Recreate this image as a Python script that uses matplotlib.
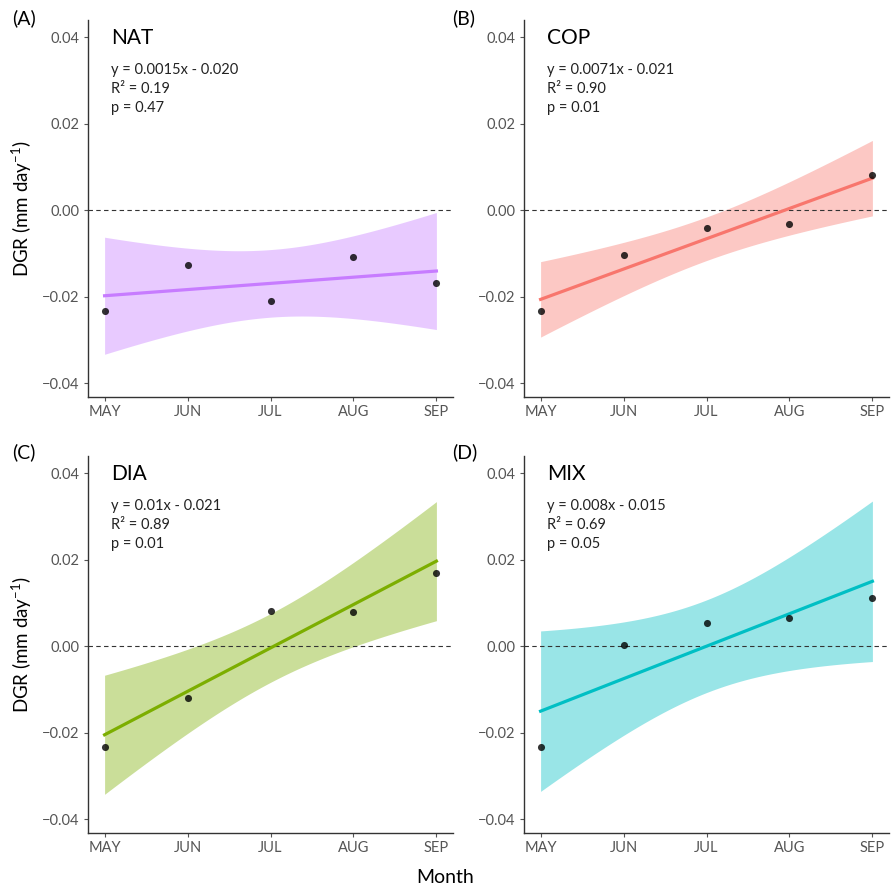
import numpy as np
import matplotlib
matplotlib.use("Agg")
import matplotlib.pyplot as plt

plt.rcParams['font.family'] = ['Lato', 'DejaVu Sans']
plt.rcParams['mathtext.fontset'] = 'custom'
plt.rcParams['mathtext.rm'] = 'Lato'
plt.rcParams['mathtext.it'] = 'Lato:italic'

# monthly daily growth rate per group
months = ["MAY", "JUN", "JUL", "AUG", "SEP"]
nat = [-0.0232, -0.0126, -0.0210, -0.0109, -0.0169]
cop = [-0.0233, -0.0104, -0.0042, -0.0033, 0.0082]
dia = [-0.0232, -0.0120, 0.0082, 0.0080, 0.0170]
mix = [-0.0232, 0.0002, 0.0053, 0.0065, 0.0112]

groups = ["NAT", "COP", "DIA", "MIX"]
panel_tags = ["(A)", "(B)", "(C)", "(D)"]
equations = ["y = 0.0015x - 0.020", "y = 0.0071x - 0.021",
             "y = 0.01x - 0.021", "y = 0.008x - 0.015"]
r2_text = ["0.19", "0.90", "0.89", "0.69"]
p_text = ["0.47", "0.01", "0.01", "0.05"]
line_cols = ["#C77CFF", "#F8766D", "#7CAE00", "#00BFC4"]
series = [nat, cop, dia, mix]

T95 = 3.182  # t quantile, df = 3

fig = plt.figure(figsize=(8.91, 8.88), dpi=100)
W, H = 891, 888
boxes = [(88, 20, 453, 397), (524, 20, 889, 397),
         (88, 456, 453, 833), (524, 456, 889, 833)]
tag_pos = [(12, 18), (452, 18), (12, 452), (452, 452)]

for i, vals in enumerate(series):
    x0, y0, x1, y1 = boxes[i]
    ax = fig.add_axes([x0 / W, 1 - y1 / H, (x1 - x0) / W, (y1 - y0) / H])
    x = np.arange(len(months), dtype=float)
    y = np.array(vals)

    # linear fit with 95% confidence band
    b, a = np.polyfit(x, y, 1)
    n = len(x)
    resid = y - (a + b * x)
    s = np.sqrt(np.sum(resid ** 2) / (n - 2))
    sxx = np.sum((x - x.mean()) ** 2)
    xg = np.linspace(0, 4, 100)
    fit = a + b * xg
    half = T95 * s * np.sqrt(1 / n + (xg - x.mean()) ** 2 / sxx)

    ax.fill_between(xg, fit - half, fit + half, color=line_cols[i],
                    alpha=0.4, linewidth=0, zorder=1)
    ax.axhline(0, color="#333333", linestyle=(0, (4, 3)), linewidth=0.8, zorder=2)
    ax.plot(xg, fit, color=line_cols[i], linewidth=2.3, zorder=3)
    ax.scatter(x, y, s=26, color="black", alpha=0.8, linewidths=0, zorder=4)

    ax.set_xlim(-0.2, 4.2)
    ax.set_ylim(-0.0432, 0.0440)
    ax.set_xticks(x)
    ax.set_xticklabels(months)
    ax.set_yticks([-0.04, -0.02, 0.0, 0.02, 0.04])
    ax.set_yticklabels(["\u22120.04", "\u22120.02", "0.00", "0.02", "0.04"])
    for sp in ["top", "right"]:
        ax.spines[sp].set_visible(False)
    for sp in ["left", "bottom"]:
        ax.spines[sp].set_color("#333333")
        ax.spines[sp].set_linewidth(1.0)
    ax.tick_params(length=3, width=0.8, color="#555555", labelcolor="#555555",
                   labelsize=10.5, pad=3)

    ax.text(0.063, 0.952, groups[i], transform=ax.transAxes, fontsize=15,
            va="center", ha="left", color="black")
    ax.text(0.063, 0.867, equations[i], transform=ax.transAxes, fontsize=10.5,
            va="center", ha="left", color="#222222")
    ax.text(0.063, 0.817, "R\u00b2 = " + r2_text[i], transform=ax.transAxes,
            fontsize=10.5, va="center", ha="left", color="#222222")
    ax.text(0.063, 0.767, "p = " + p_text[i], transform=ax.transAxes,
            fontsize=10.5, va="center", ha="left", color="#222222")

    if i % 2 == 0:
        ax.set_ylabel(r"DGR (mm day$^{\mathrm{-1}}$)", fontsize=13.5, labelpad=6)

    tx, ty = tag_pos[i]
    fig.text(tx / W, 1 - ty / H, panel_tags[i], fontsize=14, ha="left", va="center")

fig.text(445 / W, 1 - 877 / H, "Month", fontsize=14, ha="center", va="center")

fig.savefig("out.png", dpi=100)
